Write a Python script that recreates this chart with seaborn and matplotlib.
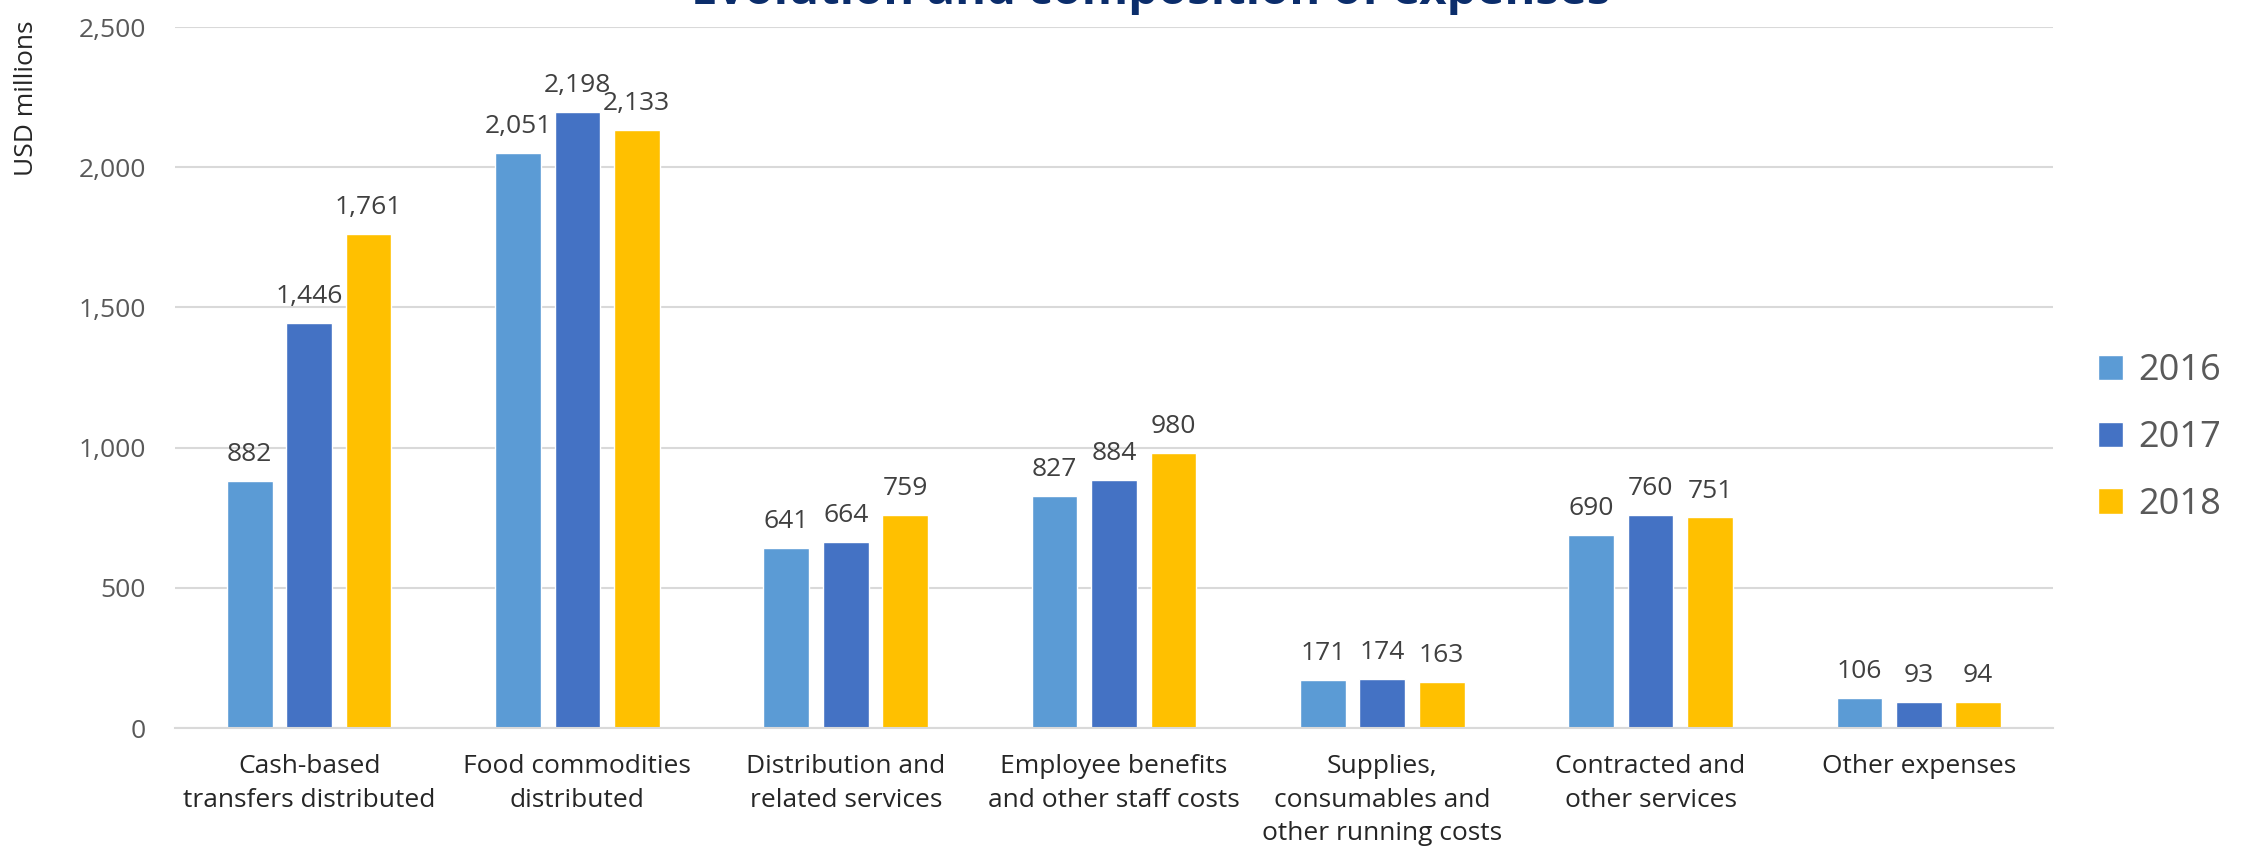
import matplotlib
matplotlib.use("Agg")
import matplotlib.pyplot as plt
import seaborn as sns
import pandas as pd

categories = ["Cash-based\ntransfers distributed", "Food commodities\ndistributed",
              "Distribution and\nrelated services", "Employee benefits\nand other staff costs",
              "Supplies,\nconsumables and\nother running costs", "Contracted and\nother services",
              "Other expenses"]
years = ["2016", "2017", "2018"]
values_2016 = [882, 2051, 641, 827, 171, 690, 106]
values_2017 = [1446, 2198, 664, 884, 174, 760, 93]
values_2018 = [1761, 2133, 759, 980, 163, 751, 94]
yticks = [0, 500, 1000, 1500, 2000, 2500]
colors = ["#5B9BD5", "#4472C4", "#FFC000"]

rows = []
for yr, vals in zip(years, [values_2016, values_2017, values_2018]):
    for c, v in zip(categories, vals):
        rows.append({"category": c, "year": yr, "value": v})
df = pd.DataFrame(rows)

sns.set_theme(style="white")
plt.rcParams["font.family"] = ["Open Sans", "DejaVu Sans"]

fig = plt.figure(figsize=(22.44, 8.55), dpi=100)
ax = fig.add_axes([175/2244, 1-728/855, (2053-175)/2244, (728-27)/855])

sns.barplot(data=df, x="category", y="value", hue="year", palette=colors,
            width=0.664, gap=0.23, ax=ax, legend=True, saturation=1)

for cont in ax.containers:
    ax.bar_label(cont, labels=[f"{v:,.0f}" for v in cont.datavalues],
                 padding=10, fontsize=19, color="#404040")

ax.set_ylim(0, 2500)
ax.set_xlim(-0.5, 6.5)
ax.set_yticks(yticks)
ax.set_yticklabels([f"{t:,}" for t in yticks])
ax.yaxis.grid(True, color="#D9D9D9", linewidth=1.5)
ax.set_axisbelow(True)
for s in ["top", "right", "left"]:
    ax.spines[s].set_visible(False)
ax.spines["bottom"].set_color("#D9D9D9")
ax.spines["bottom"].set_linewidth(1.5)
ax.tick_params(axis="y", length=0, pad=21, labelsize=19, labelcolor="#595959")
ax.tick_params(axis="x", length=0, pad=19, labelsize=19, labelcolor="#262626")
for lbl in ax.get_xticklabels():
    lbl.set_linespacing(1.45)
ax.set_xlabel("")
ax.set_ylabel("")

fig.text(27/2244, 1-98/855, "USD millions", rotation=90, ha="center", va="center",
         fontsize=19, color="#262626")

fig.text(0.5126, 1-4/855, "Evolution and composition of expenses", ha="center",
         va="baseline", fontsize=34, fontweight="bold", color="#0B2D6B")

handles, labels = ax.get_legend_handles_labels()
ax.legend(handles, labels, loc="center left", bbox_to_anchor=(2080/2244, 1-438/855),
          bbox_transform=fig.transFigure, frameon=False, fontsize=26,
          labelcolor="#595959", handlelength=0.7, handleheight=0.7,
          handletextpad=0.4, labelspacing=0.85, borderpad=0)

fig.savefig("out.png", dpi=100)
